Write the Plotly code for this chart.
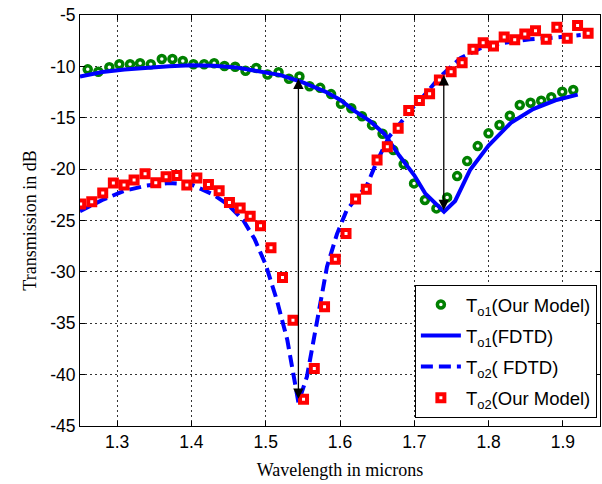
import plotly.graph_objects as go

# ---- data ----
to1_model_x = [1.2604, 1.2747, 1.2895, 1.3030, 1.3174, 1.3309, 1.3453, 1.3601, 1.3744, 1.3884,
               1.4027, 1.4171, 1.4306, 1.4445, 1.4589, 1.4728, 1.4872, 1.5024, 1.5173, 1.5313,
               1.5454, 1.5590, 1.5734, 1.5880, 1.6013, 1.6152, 1.6296, 1.6431, 1.6573, 1.6718,
               1.6857, 1.6997, 1.7143, 1.7298, 1.7442, 1.7577, 1.7712, 1.7854, 1.7999, 1.8147,
               1.8286, 1.8420, 1.8565, 1.8709, 1.8844, 1.8992, 1.9140]
to1_model_y = [-10.29, -10.52, -10.09, -9.80, -9.80, -9.70, -9.80, -9.28, -9.28, -9.48,
               -9.80, -9.80, -9.70, -9.97, -10.03, -10.42, -10.16, -10.79, -10.57, -11.21,
               -10.98, -11.94, -12.09, -12.70, -13.63, -14.08, -14.86, -15.72, -16.55, -18.15,
               -19.51, -21.39, -23.01, -23.82, -22.75, -20.68, -19.22, -17.76, -16.52, -15.71,
               -14.81, -13.76, -13.54, -13.34, -13.01, -12.47, -12.30]

to1_fdtd_x = [1.25, 1.28, 1.31, 1.34, 1.37, 1.40, 1.43, 1.46, 1.49, 1.52, 1.55, 1.58, 1.60, 1.62,
              1.64, 1.66, 1.68, 1.70, 1.715, 1.74, 1.755, 1.775, 1.80, 1.83, 1.86, 1.89, 1.92]
to1_fdtd_y = [-11.0, -10.55, -10.3, -10.1, -9.98, -9.9, -9.95, -10.1, -10.45, -10.85, -11.55,
              -12.45, -13.25, -14.35, -15.3, -16.6, -18.7, -20.6, -22.4, -24.15, -23.1, -20.1,
              -17.7, -15.5, -14.15, -13.3, -12.75]

to2_fdtd_x = [1.25, 1.28, 1.31, 1.34, 1.37, 1.40, 1.43, 1.45, 1.47, 1.485, 1.50, 1.515, 1.529,
              1.5375, 1.544, 1.5555, 1.5644, 1.5734, 1.5825, 1.596, 1.609, 1.621, 1.636, 1.65,
              1.666, 1.681, 1.695, 1.71, 1.735, 1.762, 1.789, 1.816, 1.856, 1.892, 1.924]
to2_fdtd_y = [-24.1, -23.0, -22.1, -21.6, -21.35, -21.5, -22.5, -23.5, -25.0, -26.8, -29.3,
              -32.75, -36.6, -40.2, -42.7, -40.2, -36.6, -32.75, -29.5, -26.3, -24.0, -22.9,
              -21.6, -19.2, -16.85, -15.55, -14.25, -13.1, -11.0, -9.2, -8.24, -7.76, -7.37,
              -7.17, -6.95]

to2_model_x = [1.2509, 1.2658, 1.2806, 1.2949, 1.3093, 1.3228, 1.3376, 1.3520, 1.3659, 1.3803,
               1.3938, 1.4073, 1.4229, 1.4373, 1.4512, 1.4656, 1.4791, 1.4930, 1.5071, 1.5226,
               1.5367, 1.5509, 1.5654, 1.5792, 1.5937, 1.6081, 1.6210, 1.6354, 1.6499, 1.6637,
               1.6783, 1.6925, 1.7069, 1.7206, 1.7338, 1.7496, 1.7644, 1.7790, 1.7927, 1.8066,
               1.8210, 1.8352, 1.8488, 1.8632, 1.8776, 1.8919, 1.9059, 1.9198, 1.9340]
to2_model_y = [-23.40, -23.18, -22.33, -21.36, -21.55, -21.07, -20.45, -21.33, -20.74, -20.61,
               -21.55, -20.87, -21.50, -22.11, -23.26, -23.79, -24.59, -25.50, -27.66, -30.54,
               -34.70, -42.39, -39.40, -33.40, -28.76, -26.26, -22.90, -21.96, -19.12, -17.82,
               -16.03, -14.30, -13.33, -12.67, -11.33, -10.52, -9.64, -8.34, -7.70, -8.02,
               -7.14, -7.40, -6.85, -6.53, -7.37, -6.20, -7.27, -6.02, -6.78]

arrow_x = [1.544, 1.7397]
arrow_top = [-11.2, -10.85]
arrow_bottom = [-42.5, -24.15]

x_ticks = [1.3, 1.4, 1.5, 1.6, 1.7, 1.8, 1.9]
y_ticks = [-45, -40, -35, -30, -25, -20, -15, -10, -5]

SANS = "Arial, 'Liberation Sans', sans-serif"
SERIF = "'Times New Roman', 'Liberation Serif', serif"

fig = go.Figure()
fig.add_trace(go.Scatter(
    x=to1_model_x, y=to1_model_y, mode="markers", name="T<sub>o1</sub>(Our Model)",
    legendgroup="g1",
    marker=dict(symbol="circle", size=7, color="white",
                line=dict(color="#008000", width=3.5))))
fig.add_trace(go.Scatter(
    x=to1_fdtd_x, y=to1_fdtd_y, mode="lines", name="T<sub>o1</sub>(FDTD)",
    legendgroup="g2",
    line=dict(color="#0000FF", width=4)))
fig.add_trace(go.Scatter(
    x=to2_fdtd_x, y=to2_fdtd_y, mode="lines", name="T<sub>o2</sub>( FDTD)",
    legendgroup="g3",
    line=dict(color="#0000FF", width=4, dash="12px,6px")))
fig.add_trace(go.Scatter(
    x=to2_model_x, y=to2_model_y, mode="markers", name="T<sub>o2</sub>(Our Model)",
    legendgroup="g4",
    marker=dict(symbol="square", size=7, color="white",
                line=dict(color="#FF0000", width=4))))

for xa, yt, yb in zip(arrow_x, arrow_top, arrow_bottom):
    fig.add_annotation(x=xa, y=yt, ax=xa, ay=yb, xref="x", yref="y", axref="x", ayref="y",
                       text="", showarrow=True, arrowhead=2, startarrowhead=2,
                       arrowside="end+start", arrowsize=1.6, startarrowsize=1.6,
                       arrowwidth=1.3, arrowcolor="black", standoff=0, startstandoff=0)

axis_common = dict(showline=True, linecolor="black", linewidth=1, mirror="ticks",
                   ticks="inside", ticklen=5, tickcolor="black", showgrid=True,
                   gridcolor="#333333", gridwidth=1, griddash="2px,3px", zeroline=False,
                   tickfont=dict(family=SANS, size=17.5, color="black"))

fig.update_xaxes(range=[1.25, 1.95], tickvals=x_ticks, ticktext=[str(v) for v in x_ticks],
                 title=dict(text="Wavelength in microns", font=dict(family=SERIF, size=18, color="black"),
                            standoff=12),
                 **axis_common)
fig.update_yaxes(range=[-45, -5], tickvals=y_ticks, ticktext=[str(v) for v in y_ticks],
                 title=dict(text="Transmission in dB", font=dict(family=SERIF, size=18, color="black"),
                            standoff=8),
                 **axis_common)

fig.update_layout(
    width=602, height=484, autosize=False,
    margin=dict(l=80, r=2, t=15, b=58),
    paper_bgcolor="white", plot_bgcolor="white",
    font=dict(family=SANS, size=16, color="black"),
    legend=dict(x=0.994, y=0.0195, xanchor="right", yanchor="bottom",
                bordercolor="black", borderwidth=1, bgcolor="white",
                font=dict(family=SANS, size=18.5, color="black"),
                tracegroupgap=4, itemwidth=40),
    showlegend=True,
)

fig.write_html("out.html")
